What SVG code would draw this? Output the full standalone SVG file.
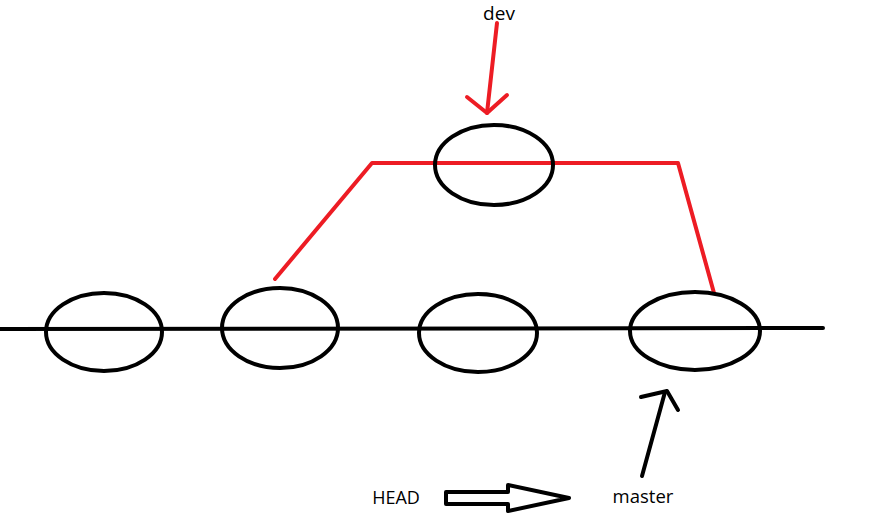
<svg xmlns="http://www.w3.org/2000/svg" width="890" height="521" viewBox="0 0 890 521">
<style>
.node{fill:none;stroke:#000;stroke-width:4}
.blk{fill:none;stroke:#000;stroke-width:4;stroke-linecap:round;stroke-linejoin:round}
.red{fill:none;stroke:#ed1c24;stroke-width:4;stroke-linecap:round;stroke-linejoin:round}
.lbl{font-family:"Open Sans","Noto Sans","DejaVu Sans",sans-serif;fill:#000}
</style>
<rect width="890" height="521" fill="#fff"/>
<g id="connectors">
<line class="blk" x1="0" y1="329" x2="823" y2="328"/>
<polyline class="red" points="275,279 372,163 678,163 714,293"/>
<line class="red" x1="497" y1="23" x2="487" y2="113"/>
<polyline class="red" points="467,97 487,113 507,95"/>
<line class="blk" x1="642" y1="476" x2="665" y2="392"/>
<polyline class="blk" points="641,397 667,391 678,410"/>
<polygon class="blk" points="446,492 508,492 508,485 569,498 508,511 508,504 446,504"/>
</g>
<g id="n1"><ellipse class="node" cx="104" cy="332" rx="58" ry="39"/></g>
<g id="n2"><ellipse class="node" cx="280" cy="328" rx="58" ry="40"/></g>
<g id="n3"><ellipse class="node" cx="478" cy="333" rx="59" ry="39"/></g>
<g id="n4"><ellipse class="node" cx="695" cy="331" rx="65" ry="39"/></g>
<g id="n5"><ellipse class="node" cx="494" cy="165" rx="59" ry="40"/></g>
<g id="dev"><text class="lbl" x="499" y="20" font-size="19" text-anchor="middle">dev</text></g>
<g id="master"><text class="lbl" x="643" y="503" font-size="18.5" text-anchor="middle">master</text></g>
<g id="head"><text class="lbl" x="396" y="504" font-size="18" text-anchor="middle">HEAD</text></g>
</svg>
